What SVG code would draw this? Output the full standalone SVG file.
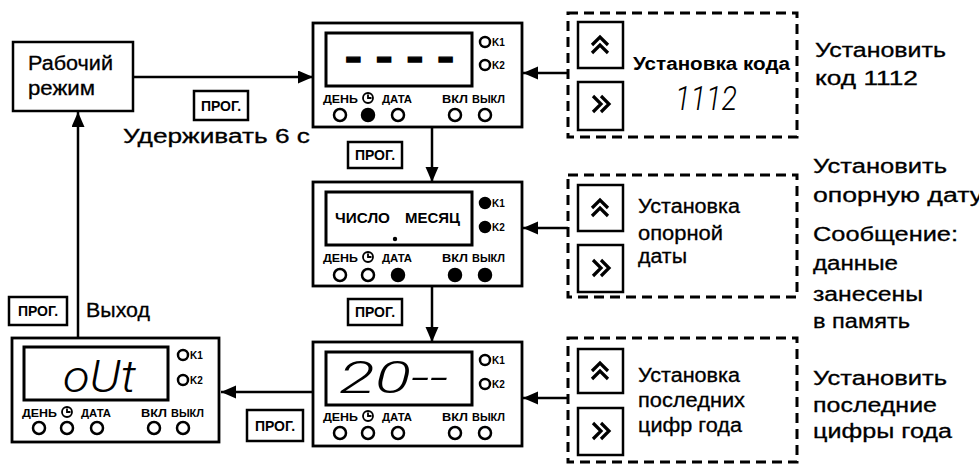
<svg xmlns="http://www.w3.org/2000/svg" width="979" height="464" viewBox="0 0 979 464">
<defs>
<style>
.ln{stroke:#000;stroke-width:2.5;fill:none}
.dev{fill:#fff;stroke:#000;stroke-width:2.8}
.disp{fill:none;stroke:#000;stroke-width:3}
.led{fill:#fff;stroke:#000;stroke-width:2.5}
.on{fill:#000;stroke:#000;stroke-width:2.5}
.btn{fill:#fff;stroke:#000;stroke-width:2.5}
.ic{fill:none;stroke:#000;stroke-width:3.2;stroke-linecap:butt;stroke-linejoin:miter}
.dash{fill:none;stroke:#000;stroke-width:3;stroke-dasharray:10 6}
.lbl{font-family:"Liberation Sans",Arial,sans-serif;font-weight:bold;font-size:11px}
.k{font-family:"Liberation Sans",Arial,sans-serif;font-weight:bold;font-size:10px}
.t{font-family:"Liberation Sans",Arial,sans-serif;font-size:20px;stroke:#000;stroke-width:0.3}
.b{font-family:"Liberation Sans",Arial,sans-serif;font-size:18px;font-weight:bold}
.pg{font-family:"Liberation Sans",Arial,sans-serif;font-size:14px;font-weight:bold;text-anchor:middle}
.seg{font-family:Roboto,"DejaVu Sans",sans-serif;font-style:italic;font-weight:300}
.clk{fill:none;stroke:#000;stroke-width:1.8}
</style>
<marker id="ah" markerUnits="userSpaceOnUse" markerWidth="16" markerHeight="14" refX="15" refY="6.5" orient="auto">
<path d="M0,0 L15,6.5 L0,13 z" fill="#000"/>
</marker>
</defs>
<rect width="979" height="464" fill="#fff"/>

<g id="connectors">
<line class="ln" x1="133" y1="77" x2="313" y2="77" marker-end="url(#ah)"/>
<line class="ln" x1="568" y1="73" x2="523" y2="73" marker-end="url(#ah)"/>
<line class="ln" x1="568" y1="228" x2="523" y2="228" marker-end="url(#ah)"/>
<line class="ln" x1="568" y1="398" x2="523" y2="398" marker-end="url(#ah)"/>
<line class="ln" x1="432" y1="127" x2="432" y2="182" marker-end="url(#ah)"/>
<line class="ln" x1="432" y1="287" x2="432" y2="342" marker-end="url(#ah)"/>
<line class="ln" x1="313" y1="392" x2="221" y2="392" marker-end="url(#ah)"/>
<line class="ln" x1="78" y1="338" x2="78" y2="112" marker-end="url(#ah)"/>
</g>

<g id="work-mode">
<rect class="btn" x="13" y="42" width="120" height="69"/>
<text class="t" font-size="19" x="28" y="70" textLength="85" lengthAdjust="spacingAndGlyphs">Рабочий</text>
<text class="t" font-size="19" x="28" y="95" textLength="67" lengthAdjust="spacingAndGlyphs">режим</text>
</g>

<g id="prog1">
<rect class="btn" x="194" y="91" width="54" height="29"/>
<text class="pg" x="221" y="111">ПРОГ.</text>
</g>
<text id="hold" class="t" font-size="21" x="123" y="143" textLength="187" lengthAdjust="spacingAndGlyphs">Удерживать 6 с</text>

<g id="prog2">
<rect class="btn" x="348" y="142" width="54" height="26"/>
<text class="pg" x="375" y="160">ПРОГ.</text>
</g>
<g id="prog3">
<rect class="btn" x="348" y="299" width="54" height="26"/>
<text class="pg" x="375" y="317">ПРОГ.</text>
</g>
<g id="prog4">
<rect class="btn" x="247" y="410" width="56" height="31"/>
<text class="pg" x="275" y="431">ПРОГ.</text>
</g>
<g id="prog5">
<rect class="btn" x="9" y="297" width="58" height="28"/>
<text class="pg" x="38" y="316">ПРОГ.</text>
</g>
<text id="exit" class="t" font-size="19" x="86" y="317" textLength="64" lengthAdjust="spacingAndGlyphs">Выход</text>

<!-- top device -->
<g id="dev-code" transform="translate(313,23)">
<rect class="dev" x="0" y="0" width="209" height="104"/>
<rect class="disp" x="13" y="10" width="146" height="53"/>
<text x="32" y="47" font-family="Liberation Sans,Arial,sans-serif" font-weight="bold" font-size="40" stroke="#000" stroke-width="1.4" textLength="109" lengthAdjust="spacingAndGlyphs">- - - -</text>
<circle class="led" cx="172" cy="19" r="5"/>
<text class="k" x="179" y="23">K1</text>
<circle class="led" cx="172" cy="42" r="5"/>
<text class="k" x="179" y="46">K2</text>
<text class="lbl" x="10" y="80" textLength="35" lengthAdjust="spacingAndGlyphs">ДЕНЬ</text>
<circle class="clk" cx="55" cy="75" r="5"/><path class="clk" d="M55,71.5 V75 H58.5"/>
<text class="lbl" x="69" y="80" textLength="30" lengthAdjust="spacingAndGlyphs">ДАТА</text>
<text class="lbl" x="129" y="80" textLength="26" lengthAdjust="spacingAndGlyphs">ВКЛ</text>
<text class="lbl" x="159" y="80" textLength="33" lengthAdjust="spacingAndGlyphs">ВЫКЛ</text>
<circle class="led" cx="27" cy="92" r="6"/>
<circle class="on" cx="55" cy="92" r="6"/>
<circle class="led" cx="85" cy="92" r="6"/>
<circle class="led" cx="142" cy="92" r="6"/>
<circle class="led" cx="172" cy="92" r="6"/>
</g>

<!-- middle device -->
<g id="dev-date" transform="translate(313,182)">
<rect class="dev" x="0" y="0" width="209" height="104"/>
<rect class="disp" x="13" y="10" width="146" height="53"/>
<text x="22" y="41" font-family="Liberation Sans,Arial,sans-serif" font-weight="bold" font-size="14" textLength="55" lengthAdjust="spacingAndGlyphs">ЧИСЛО</text>
<text x="92" y="41" font-family="Liberation Sans,Arial,sans-serif" font-weight="bold" font-size="14" textLength="55" lengthAdjust="spacingAndGlyphs">МЕСЯЦ</text>
<circle cx="82" cy="57" r="2.2" fill="#000"/>
<circle class="on" cx="172" cy="21" r="5"/>
<text class="k" x="179" y="25">K1</text>
<circle class="on" cx="172" cy="45" r="5"/>
<text class="k" x="179" y="49">K2</text>
<text class="lbl" x="10" y="80" textLength="35" lengthAdjust="spacingAndGlyphs">ДЕНЬ</text>
<circle class="clk" cx="55" cy="75" r="5"/><path class="clk" d="M55,71.5 V75 H58.5"/>
<text class="lbl" x="69" y="80" textLength="30" lengthAdjust="spacingAndGlyphs">ДАТА</text>
<text class="lbl" x="129" y="80" textLength="26" lengthAdjust="spacingAndGlyphs">ВКЛ</text>
<text class="lbl" x="159" y="80" textLength="33" lengthAdjust="spacingAndGlyphs">ВЫКЛ</text>
<circle class="led" cx="27" cy="93" r="6"/>
<circle class="led" cx="55" cy="93" r="6"/>
<circle class="on" cx="85" cy="93" r="6"/>
<circle class="on" cx="142" cy="93" r="6"/>
<circle class="on" cx="172" cy="93" r="6"/>
</g>

<!-- bottom device -->
<g id="dev-year" transform="translate(313,342)">
<rect class="dev" x="0" y="0" width="209" height="104"/>
<rect class="disp" x="13" y="10" width="146" height="53"/>
<text class="seg" x="26" y="51" font-size="44" textLength="109" lengthAdjust="spacingAndGlyphs">20--</text>
<circle class="led" cx="172" cy="18" r="5"/>
<text class="k" x="179" y="22">K1</text>
<circle class="led" cx="172" cy="42" r="5"/>
<text class="k" x="179" y="46">K2</text>
<text class="lbl" x="10" y="79" textLength="35" lengthAdjust="spacingAndGlyphs">ДЕНЬ</text>
<circle class="clk" cx="55" cy="74" r="5"/><path class="clk" d="M55,70.5 V74 H58.5"/>
<text class="lbl" x="69" y="79" textLength="30" lengthAdjust="spacingAndGlyphs">ДАТА</text>
<text class="lbl" x="129" y="79" textLength="26" lengthAdjust="spacingAndGlyphs">ВКЛ</text>
<text class="lbl" x="159" y="79" textLength="33" lengthAdjust="spacingAndGlyphs">ВЫКЛ</text>
<circle class="led" cx="27" cy="91" r="6"/>
<circle class="led" cx="55" cy="91" r="6"/>
<circle class="led" cx="85" cy="91" r="6"/>
<circle class="led" cx="142" cy="91" r="6"/>
<circle class="led" cx="172" cy="91" r="6"/>
</g>

<!-- left device -->
<g id="dev-out" transform="translate(12,338)">
<rect class="dev" x="0" y="0" width="207" height="104"/>
<rect class="disp" x="12" y="9" width="144" height="53"/>
<text class="seg" x="51" y="54" font-size="44" textLength="73" lengthAdjust="spacingAndGlyphs">oUt</text>
<circle class="led" cx="171" cy="17" r="5"/>
<text class="k" x="178" y="21">K1</text>
<circle class="led" cx="171" cy="42" r="5"/>
<text class="k" x="178" y="46">K2</text>
<text class="lbl" x="10" y="79" textLength="35" lengthAdjust="spacingAndGlyphs">ДЕНЬ</text>
<circle class="clk" cx="55" cy="74" r="5"/><path class="clk" d="M55,70.5 V74 H58.5"/>
<text class="lbl" x="69" y="79" textLength="30" lengthAdjust="spacingAndGlyphs">ДАТА</text>
<text class="lbl" x="129" y="79" textLength="26" lengthAdjust="spacingAndGlyphs">ВКЛ</text>
<text class="lbl" x="159" y="79" textLength="33" lengthAdjust="spacingAndGlyphs">ВЫКЛ</text>
<circle class="led" cx="27" cy="90" r="6"/>
<circle class="led" cx="55" cy="90" r="6"/>
<circle class="led" cx="85" cy="90" r="6"/>
<circle class="led" cx="142" cy="90" r="6"/>
<circle class="led" cx="171" cy="90" r="6"/>
</g>

<!-- dashed box 1 -->
<g id="box-code">
<rect class="dash" x="568" y="13" width="229" height="124"/>
<rect class="btn" x="578" y="22" width="45" height="46"/>
<polyline class="ic" points="592,45 600,37 608,45"/>
<polyline class="ic" points="592,53 600,45 608,53"/>
<rect class="btn" x="578" y="82" width="45" height="48"/>
<polyline class="ic" points="593,96 601,104 593,112"/>
<polyline class="ic" points="601,96 609,104 601,112"/>
<text class="b" x="633" y="70" textLength="157" lengthAdjust="spacingAndGlyphs">Установка кода</text>
<text class="seg" x="675" y="110" font-size="34" textLength="62" lengthAdjust="spacingAndGlyphs">1112</text>
</g>

<!-- dashed box 2 -->
<g id="box-date">
<rect class="dash" x="568" y="175" width="229" height="122"/>
<rect class="btn" x="578" y="185" width="45" height="46"/>
<polyline class="ic" points="592,208 600,200 608,208"/>
<polyline class="ic" points="592,216 600,208 608,216"/>
<rect class="btn" x="578" y="245" width="45" height="47"/>
<polyline class="ic" points="593,260 601,268 593,276"/>
<polyline class="ic" points="601,260 609,268 601,276"/>
<text class="t" x="638" y="213" textLength="102" lengthAdjust="spacingAndGlyphs">Установка</text>
<text class="t" x="638" y="240" textLength="85" lengthAdjust="spacingAndGlyphs">опорной</text>
<text class="t" x="638" y="263" textLength="49" lengthAdjust="spacingAndGlyphs">даты</text>
</g>

<!-- dashed box 3 -->
<g id="box-year">
<rect class="dash" x="568" y="338" width="229" height="124"/>
<rect class="btn" x="578" y="349" width="45" height="44"/>
<polyline class="ic" points="592,371 600,363 608,371"/>
<polyline class="ic" points="592,379 600,371 608,379"/>
<rect class="btn" x="578" y="408" width="45" height="47"/>
<polyline class="ic" points="593,423 601,431 593,439"/>
<polyline class="ic" points="601,423 609,431 601,439"/>
<text class="t" x="638" y="382" textLength="102" lengthAdjust="spacingAndGlyphs">Установка</text>
<text class="t" x="638" y="407" textLength="107" lengthAdjust="spacingAndGlyphs">последних</text>
<text class="t" x="638" y="432" textLength="104" lengthAdjust="spacingAndGlyphs">цифр года</text>
</g>

<!-- right column notes -->
<g id="notes">
<text class="t" x="815" y="57" textLength="131" lengthAdjust="spacingAndGlyphs">Установить</text>
<text class="t" x="815" y="85" textLength="103" lengthAdjust="spacingAndGlyphs">код 1112</text>
<text class="t" x="813" y="173" textLength="134" lengthAdjust="spacingAndGlyphs">Установить</text>
<text class="t" x="813" y="202" textLength="170" lengthAdjust="spacingAndGlyphs">опорную дату</text>
<text class="t" x="813" y="241" textLength="145" lengthAdjust="spacingAndGlyphs">Сообщение:</text>
<text class="t" x="813" y="270" textLength="85" lengthAdjust="spacingAndGlyphs">данные</text>
<text class="t" x="813" y="301" textLength="110" lengthAdjust="spacingAndGlyphs">занесены</text>
<text class="t" x="813" y="328" textLength="97" lengthAdjust="spacingAndGlyphs">в память</text>
<text class="t" x="813" y="385" textLength="134" lengthAdjust="spacingAndGlyphs">Установить</text>
<text class="t" x="813" y="412" textLength="124" lengthAdjust="spacingAndGlyphs">последние</text>
<text class="t" x="813" y="438" textLength="139" lengthAdjust="spacingAndGlyphs">цифры года</text>
</g>
</svg>
